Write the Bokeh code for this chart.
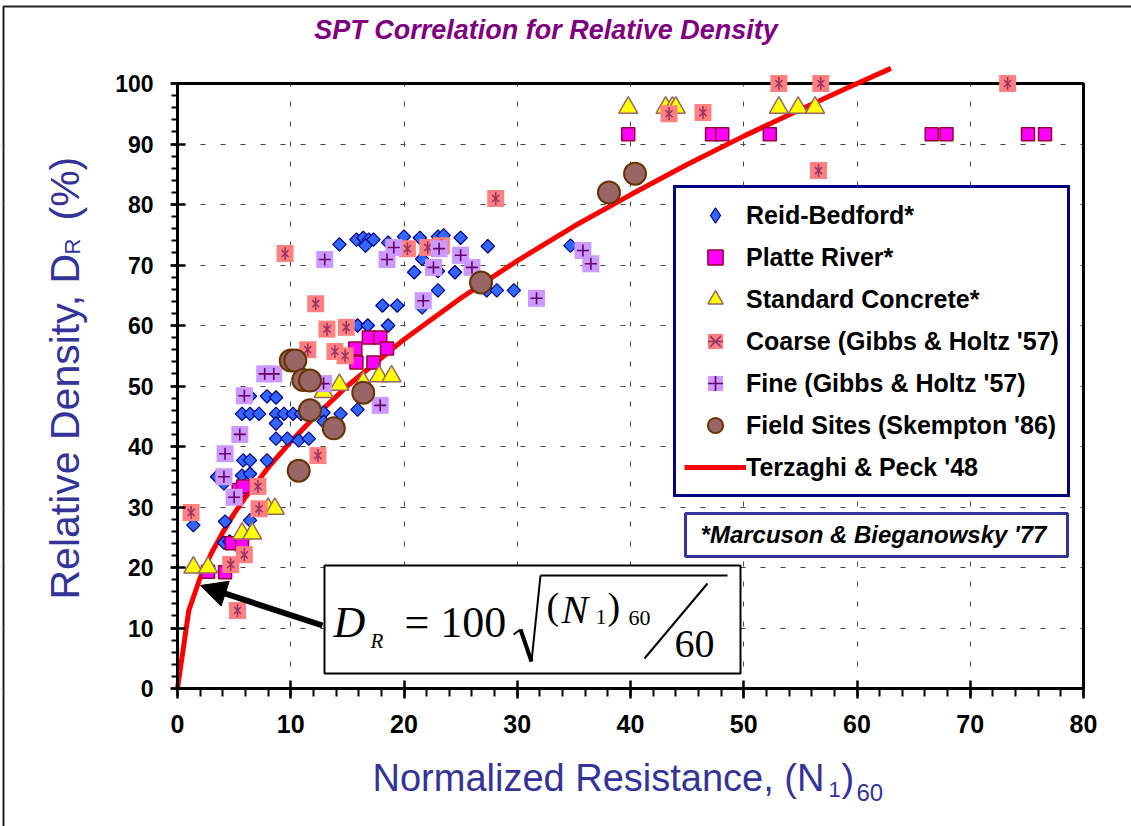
import math
from bokeh.plotting import figure
from bokeh.models import (Range1d, SingleIntervalTicker, BoxAnnotation, Label,
                          Legend, LegendItem, Arrow, NormalHead)
from bokeh.embed import file_html
from bokeh.resources import INLINE

# ---------------- data ----------------
reid_n = [14.3, 15.8, 16.4, 16.9, 17.3, 16.6, 18.6, 20.0, 21.4, 23.0, 23.5, 25.0, 27.4, 34.7,
          21.6, 23.0, 20.9, 24.5, 23.0, 27.3, 28.2, 29.7, 18.1, 19.4, 21.6, 15.9, 16.8, 18.6,
          7.9, 8.7, 6.4, 5.7, 6.4, 7.2, 8.7, 9.4, 10.2, 10.9, 12.9, 14.4, 15.9, 8.7, 12.9,
          8.7, 9.7, 10.7, 11.6, 5.8, 6.4, 7.9, 3.5, 4.1, 5.7, 6.4, 1.4, 4.2, 6.4, 4.1, 4.6]
reid_dr = [73.4, 74.2, 74.5, 74.2, 74.2, 73.2, 73.7, 74.7, 74.5, 74.7, 74.9, 74.5, 73.1, 73.2,
           71.0, 69.0, 68.8, 68.8, 65.8, 65.8, 65.8, 65.8, 63.3, 63.3, 63.0, 60.0, 60.0, 60.0,
           48.3, 48.1, 48.3, 45.4, 45.4, 45.4, 45.4, 45.4, 45.4, 45.4, 45.6, 45.4, 46.1, 43.8, 44.1,
           41.3, 41.3, 41.0, 41.3, 37.7, 37.7, 37.7, 35.0, 33.9, 35.2, 35.5, 27.0, 27.6, 27.8, 24.1, 24.3]

platte_n = [39.8, 47.2, 48.1, 52.3, 66.6, 67.9, 75.1, 76.6,
            16.9, 17.9, 15.7, 18.5, 15.8, 17.3,
            4.8, 5.7, 2.7, 4.2, 5.4, 5.8]
platte_dr = [91.6, 91.6, 91.6, 91.6, 91.6, 91.6, 91.6, 91.6,
             58.0, 58.0, 56.2, 56.2, 53.9, 53.9,
             24.0, 23.8, 19.3, 19.2, 32.8, 33.4]

concrete_n = [39.8, 43.1, 43.7, 44.0, 53.1, 54.8, 56.3,
              14.3, 17.8, 18.9, 12.9, 16.4,
              1.4, 2.7, 5.7, 6.6, 8.0, 8.6]
concrete_dr = [96.0, 96.0, 96.0, 96.0, 96.0, 96.0, 96.0,
               50.2, 51.6, 51.6, 49.0, 50.6,
               20.0, 20.0, 25.6, 25.6, 29.7, 29.7]

coarse_n = [9.5, 12.2, 13.2, 14.9, 11.5, 13.9, 14.8, 12.4, 7.1, 7.2, 1.2, 5.9, 4.7, 5.3,
            28.1, 20.3, 22.1, 23.3, 53.1, 43.4, 46.4, 56.6, 56.8, 73.3]
coarse_dr = [71.9, 63.6, 59.4, 59.7, 56.0, 55.7, 55.0, 38.5, 33.4, 29.7, 29.1, 22.1, 20.5, 12.9,
             81.0, 72.7, 72.9, 73.2, 100.0, 95.0, 95.2, 85.6, 100.0, 100.0]

fine_n = [13.0, 8.5, 7.7, 5.9, 5.5, 4.2, 4.1, 5.0, 12.9, 19.1, 18.5, 23.1, 22.6, 25.0,
          26.0, 21.7, 31.7, 17.9, 35.8, 36.5]
fine_dr = [70.9, 52.0, 52.0, 48.4, 42.0, 38.8, 35.0, 31.6, 50.4, 72.9, 70.9, 72.7, 69.6, 71.6,
           69.6, 64.1, 64.5, 46.8, 72.4, 70.2]

field_n = [10.0, 10.4, 11.1, 11.7, 11.7, 13.8, 10.7, 16.4, 26.8, 38.1, 40.4]
field_dr = [54.2, 54.2, 51.0, 50.9, 46.0, 43.0, 36.0, 48.9, 67.1, 82.0, 85.1]

tp_n = [0, 1, 2, 3, 4, 5, 6, 8, 10, 12, 15, 20, 25, 30, 35, 40, 45, 50, 55, 60, 63]
tp_dr = [0, 12.9, 18.3, 22.4, 25.8, 28.9, 31.6, 36.5, 40.8, 44.7, 50.0, 57.7, 64.5, 70.7,
         76.4, 81.6, 86.6, 91.3, 95.7, 100.0, 102.5]

legend_labels = ["Reid-Bedford*", "Platte River*", "Standard Concrete*",
                 "Coarse (Gibbs & Holtz '57)", "Fine (Gibbs & Holtz '57)",
                 "Field Sites (Skempton '86)", "Terzaghi & Peck '48"]

# ---------------- figure (frame covers whole canvas, axes at fixed locations) ----------------
PX_X = 11.325   # pixels per unit of (N1)60
PX_Y = 6.05     # pixels per % of DR
W, H = 1131, 826
X0, Y0 = 177, 688   # canvas position of the origin
xr = Range1d(-X0 / PX_X, (W - X0) / PX_X)
yr = Range1d(-(H - Y0) / PX_Y, Y0 / PX_Y)

def dx(px):
    return (px - X0) / PX_X

def dy(py):
    return (Y0 - py) / PX_Y

p = figure(width=W, height=H, x_range=xr, y_range=yr,
           output_backend="svg", toolbar_location=None,
           min_border=0, min_border_left=0, min_border_right=0,
           min_border_top=0, min_border_bottom=0)
p.outline_line_color = None
p.background_fill_color = "white"
p.border_fill_color = "white"

xt = SingleIntervalTicker(interval=10, num_minor_ticks=5)
yt = SingleIntervalTicker(interval=10, num_minor_ticks=5)
p.xaxis.ticker = xt
p.yaxis.ticker = yt
p.xgrid.ticker = xt
p.ygrid.ticker = yt
p.grid.grid_line_color = "#444444"
p.grid.grid_line_dash = "5 15"
p.grid.grid_line_width = 1

p.xaxis.fixed_location = 0
p.yaxis.fixed_location = 0
for ax in (p.xaxis[0], p.yaxis[0]):
    ax.axis_line_width = 3
    ax.axis_line_color = "black"
    ax.major_tick_line_width = 2.5
    ax.major_tick_line_color = "black"
    ax.minor_tick_line_width = 2
    ax.minor_tick_line_color = "black"
    ax.major_tick_in = 8
    ax.minor_tick_in = 0
    ax.major_label_text_color = "black"
    ax.major_label_text_font_style = "bold"
    ax.major_label_text_font = "Liberation Sans"
p.yaxis.bounds = (0, 100)
p.xaxis.bounds = (0, 80)
p.yaxis.major_tick_out = 7
p.yaxis.minor_tick_out = 6
p.yaxis.major_label_standoff = 17
p.yaxis.major_label_text_font_size = "23px"
p.xaxis.major_tick_out = 10
p.xaxis.minor_tick_out = 8
p.xaxis.major_label_standoff = 16
p.xaxis.major_label_text_font_size = "25px"

# keep the grid inside the 0-80 x 0-100 box, then the box border
for kw in (dict(right=0), dict(left=80), dict(bottom=100), dict(top=0)):
    p.add_layout(BoxAnnotation(fill_color="white", fill_alpha=1, line_color=None,
                               level="underlay", **kw))
p.add_layout(BoxAnnotation(left=0, right=80, bottom=0, top=100, fill_alpha=0,
                           line_color="black", line_alpha=1, line_width=3, level="underlay"))
# thin frame of the slide picture (top and left edges)
p.add_layout(BoxAnnotation(left=dx(3), right=95, top=dy(6), bottom=-40,
                           fill_alpha=0, line_color="#222222", line_alpha=1, line_width=2,
                           level="underlay"))

# ---------------- series ----------------
r_tp = p.line(tp_n, tp_dr, line_color="#FF0000", line_width=5)

r_reid = p.scatter(reid_n, reid_dr, marker="square", angle=math.pi / 4, size=9.5,
                   fill_color="#3366FF", line_color="#000080", line_width=1.2)
r_reid_leg = p.scatter([float("nan")], [float("nan")], marker="diamond", fill_color="#3366FF",
                       line_color="#000080", line_width=1.2)
r_platte = p.scatter(platte_n, platte_dr, marker="square", size=13,
                     fill_color="#FF00FF", line_color="#990033", line_width=1.5)
r_conc = p.scatter(concrete_n, concrete_dr, marker="triangle", size=19,
                   fill_color="#FFFF00", line_color="#996666", line_width=1.5)
r_coarse_sq = p.scatter(coarse_n, coarse_dr, marker="square", size=17,
                        fill_color="#FF8080", line_color=None)
r_coarse_x = p.scatter(coarse_n, coarse_dr, marker="x", size=10,
                       line_color="#993366", line_width=1.6)
r_coarse_d = p.scatter(coarse_n, coarse_dr, marker="dash", angle=math.pi / 2, size=13,
                       line_color="#993366", line_width=1.6)
r_fine_sq = p.scatter(fine_n, fine_dr, marker="square", size=17,
                      fill_color="#CC99FF", line_color=None)
r_fine_c = p.scatter(fine_n, fine_dr, marker="cross", size=12,
                     line_color="#660066", line_width=1.6)
r_field = p.scatter(field_n, field_dr, marker="circle", size=22,
                    fill_color="#996666", line_color="#663300", line_width=2)

legend = Legend(items=[
    LegendItem(label=legend_labels[0], renderers=[r_reid_leg]),
    LegendItem(label=legend_labels[1], renderers=[r_platte]),
    LegendItem(label=legend_labels[2], renderers=[r_conc]),
    LegendItem(label=legend_labels[3], renderers=[r_coarse_sq, r_coarse_x, r_coarse_d]),
    LegendItem(label=legend_labels[4], renderers=[r_fine_sq, r_fine_c]),
    LegendItem(label=legend_labels[5], renderers=[r_field]),
    LegendItem(label=legend_labels[6], renderers=[r_tp]),
], location=(673, H - 497))
legend.margin = 0
legend.padding = 8
legend.spacing = 4
legend.glyph_width = 62
legend.glyph_height = 38
legend.label_height = 38
legend.label_standoff = 0
legend.label_text_font = "Liberation Sans"
legend.label_text_font_style = "bold"
legend.label_text_font_size = "25px"
legend.label_text_color = "black"
legend.border_line_color = "#000080"
legend.border_line_alpha = 1
legend.border_line_width = 3
legend.background_fill_color = "white"
legend.background_fill_alpha = 1
p.add_layout(legend)

# ---------------- note box ----------------
p.add_layout(BoxAnnotation(left=dx(685), right=dx(1067), bottom=dy(556), top=dy(513),
                           fill_color="white", fill_alpha=1, line_color="#333399",
                           line_alpha=1, line_width=3))
p.add_layout(Label(x=dx(873), y=dy(534), text="*Marcuson & Bieganowsky '77",
                   text_font="Liberation Sans", text_font_style="bold italic",
                   text_font_size="24px", text_align="center", text_baseline="middle",
                   text_color="black"))

# ---------------- formula box ----------------
p.add_layout(BoxAnnotation(left=dx(324), right=dx(740), bottom=dy(673), top=dy(565),
                           fill_color="white", fill_alpha=1, line_color="black",
                           line_alpha=1, line_width=2))
SERIF = "Liberation Serif"
def flabel(px, py, t, size, style="normal"):
    p.add_layout(Label(x=dx(px), y=dy(py), text=t, text_font=SERIF, text_font_size=size,
                       text_font_style=style, text_align="left",
                       text_baseline="middle", text_color="black"))
flabel(333, 622, "D", "44px", "italic")
flabel(370, 640, "R", "21px", "italic")
flabel(404, 622, "= 100", "44px")
flabel(546, 605, "(", "38px")
flabel(561, 609, "N", "40px", "italic")
flabel(595, 616, "1", "22px")
flabel(607, 605, ")", "38px")
flabel(628, 617, "60", "22px")
flabel(674, 643, "60", "40px")

def seg(x0, y0, x1, y1, w):
    p.add_layout(Arrow(x_start=dx(x0), y_start=dy(y0), x_end=dx(x1), y_end=dy(y1),
                       start=None, end=None, line_color="black", line_width=w))
seg(513, 634, 520, 629, 2)
seg(520, 629, 531, 661, 4)
seg(531, 661, 540, 575, 2)
seg(540, 575, 727, 575, 2)
seg(644, 658, 707, 583, 2)

# pointer arrow
p.add_layout(Arrow(x_start=dx(322), y_start=dy(625), x_end=dx(200), y_end=dy(585),
                   line_color="black", line_width=6,
                   end=NormalHead(size=26, fill_color="black", line_color="black")))

# ---------------- title / axis titles ----------------
p.add_layout(Label(x=dx(545.5), y=dy(29), text="SPT Correlation for Relative Density",
                   text_font="Liberation Sans", text_font_style="bold italic",
                   text_font_size="27px", text_color="#800080",
                   text_align="center", text_baseline="middle"))

LAB = "Liberation Sans"
LC = "#333399"
def alabel(px, py, t, size, angle=0.0):
    p.add_layout(Label(x=dx(px), y=dy(py), text=t, text_font=LAB, text_font_size=size,
                       text_color=LC, text_align="left", text_baseline="middle",
                       angle=angle))
# y title (rotated, reading upwards)
alabel(64, 599, "Relative Density, D", "41px", math.pi / 2)
alabel(72, 254, "R", "22px", math.pi / 2)
alabel(64, 220, "(%)", "41px", math.pi / 2)
# x title
alabel(372, 777, "Normalized Resistance, (N", "38px")
alabel(828, 789, "1", "22px")
alabel(841, 777, ")", "38px")
alabel(856, 792, "60", "24px")

open("out.html", "w").write(file_html(p, INLINE))
